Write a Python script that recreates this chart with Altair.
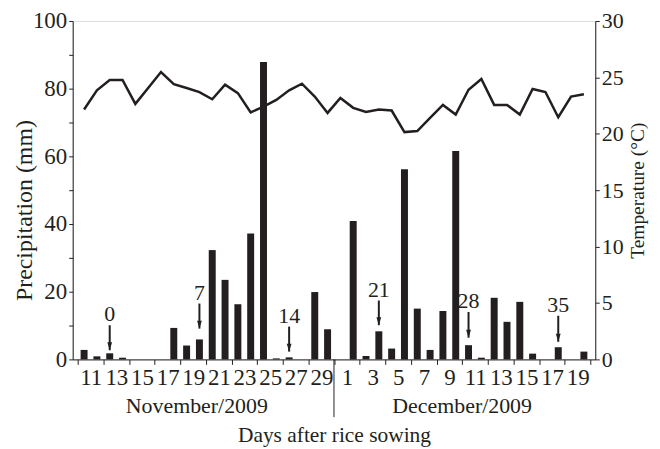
import json
import altair as alt
import pandas as pd

# ---- data (one entry per day, Nov 11 2009 .. Dec 20 2009) ----
precip = [2.8, 0.9, 1.8, 0.5, 0, 0, 0, 9.3, 4.1, 5.9,
          32.3, 23.5, 16.3, 37.2, 87.9, 0.3, 0.6, 0, 19.9, 8.9,
          0, 40.9, 1.0, 8.3, 3.2, 56.2, 15.0, 2.8, 14.3, 61.6,
          4.2, 0.5, 18.2, 11.1, 17.0, 1.7, 0, 3.6, 0, 2.3]
temp = [22.15, 23.85, 24.77, 24.77, 22.65, 24.06, 25.47, 24.4, 24.06, 23.7,
        23.06, 24.35, 23.6, 21.9, 22.4, 23.0, 23.85, 24.44, 23.3, 21.85,
        23.18, 22.3, 21.94, 22.15, 22.06, 20.15, 20.24, 21.4, 22.56, 21.7,
        23.9, 24.85, 22.56, 22.56, 21.7, 23.97, 23.7, 21.47, 23.3, 23.5]
tick_labels = ["11", "13", "15", "17", "19", "21", "23", "25", "27", "29",
               "1", "3", "5", "7", "9", "11", "13", "15", "17", "19"]

# days after sowing annotations
arrow_day_index = [2, 9, 16, 23, 30, 37]
arrow_text = ["0", "7", "14", "21", "28", "35"]
arrow_tip = [2.7, 9.1, 2.3, 10.1, 6.4, 5.2]     # mm
arrow_top = [10.1, 16.5, 9.7, 17.4, 14.0, 12.9]  # mm

month_names = ["November/2009", "December/2009"]
month_pos = [9.3, 30.0]
month_break = [20]

FONT = "Liberation Serif"
INK = "#231f20"
W, H = 525, 340
ndays = len(precip)
half = W / ndays  # one day in px (labels sit mid 2-day interval)

df = pd.DataFrame({"pos": [i + 0.5 for i in range(ndays)], "precip": precip, "temp": temp})
arr = pd.DataFrame({
    "pos": [i + 0.5 for i in arrow_day_index],
    "label": arrow_text, "tip": arrow_tip, "top": arrow_top,
})
months = pd.DataFrame({"pos": month_pos, "name": month_names})
sep = pd.DataFrame({"pos": month_break})

xscale = alt.Scale(domain=[0, ndays], nice=False, zero=False)
xaxis = alt.Axis(
    values=list(range(0, ndays + 1, 2)),
    labelExpr=f"{json.dumps(tick_labels)}[datum.value/2] || ''",
    labelOffset=half, labelFlush=False, labelOverlap=False,
    tickSize=5, labelPadding=2, grid=False,
    labelFont=FONT, labelFontSize=23, labelColor=INK,
    domainColor=INK, tickColor=INK,
    title="Days after rice sowing", titleFont=FONT, titleFontSize=21.5,
    titleFontWeight="normal", titleColor=INK, titlePadding=35,
)
X = alt.X("pos:Q", scale=xscale, axis=xaxis)

yscale = alt.Scale(domain=[0, 100], nice=False)
yaxis = alt.Axis(
    values=list(range(0, 101, 10)),
    labelExpr="datum.value % 20 == 0 ? datum.label : ''",
    tickSize=4, labelPadding=2, grid=False,
    labelFont=FONT, labelFontSize=23, labelColor=INK,
    domainColor=INK, tickColor=INK,
    title="Precipitation (mm)", titleFont=FONT, titleFontSize=24,
    titleFontWeight="normal", titleColor=INK,
    titleX=-48, titleY=190, titleBaseline="middle", titleAlign="center",
)

bars = alt.Chart(df).mark_bar(size=7, color=INK).encode(
    x=X, y=alt.Y("precip:Q", scale=yscale, axis=yaxis)
)
shafts = alt.Chart(arr).mark_rule(color=INK, strokeWidth=2).encode(
    x=X, y=alt.Y("top:Q", scale=yscale, axis=yaxis), y2="tip:Q"
)
heads = alt.Chart(arr).mark_point(
    shape="M-0.6,-2L0.6,-2L0,0Z", size=64, filled=True, color=INK, opacity=1
).encode(x=X, y=alt.Y("tip:Q", scale=yscale, axis=yaxis))
labels = alt.Chart(arr).mark_text(
    font=FONT, fontSize=22, color=INK, baseline="alphabetic", dy=-4
).encode(x=X, y=alt.Y("top:Q", scale=yscale, axis=yaxis), text="label:N")
sep_rule = alt.Chart(sep).mark_rule(color=INK, strokeWidth=1).encode(
    x=X, y=alt.value(H), y2=alt.value(H + 58)
)
month_text = alt.Chart(months).mark_text(
    font=FONT, fontSize=22, color=INK, baseline="middle"
).encode(x=X, y=alt.value(H + 47), text="name:N")

left = alt.layer(bars, shafts, heads, labels, sep_rule, month_text)

line = alt.Chart(df).mark_line(color=INK, strokeWidth=2.5).encode(
    x=X,
    y=alt.Y("temp:Q", scale=alt.Scale(domain=[0, 30], nice=False),
            axis=alt.Axis(
                orient="right", values=list(range(0, 31, 5)),
                tickSize=4, labelPadding=2, grid=False,
                labelFont=FONT, labelFontSize=22, labelColor=INK,
                domainColor=INK, tickColor=INK,
                title="Temperature (°C)", titleFont=FONT, titleFontSize=19.5,
                titleFontWeight="normal", titleColor=INK, titleAngle=270,
                titleX=42, titleY=H / 2, titleBaseline="middle", titleAlign="center",
            )),
)

chart = alt.layer(left, line).resolve_scale(y="independent").properties(
    width=W, height=H, padding={"left": 5, "top": 1, "right": 5, "bottom": 5}
).configure_view(stroke=None).configure(background="white")

chart.save("out.html", embed_options={"renderer": "svg", "actions": False})
